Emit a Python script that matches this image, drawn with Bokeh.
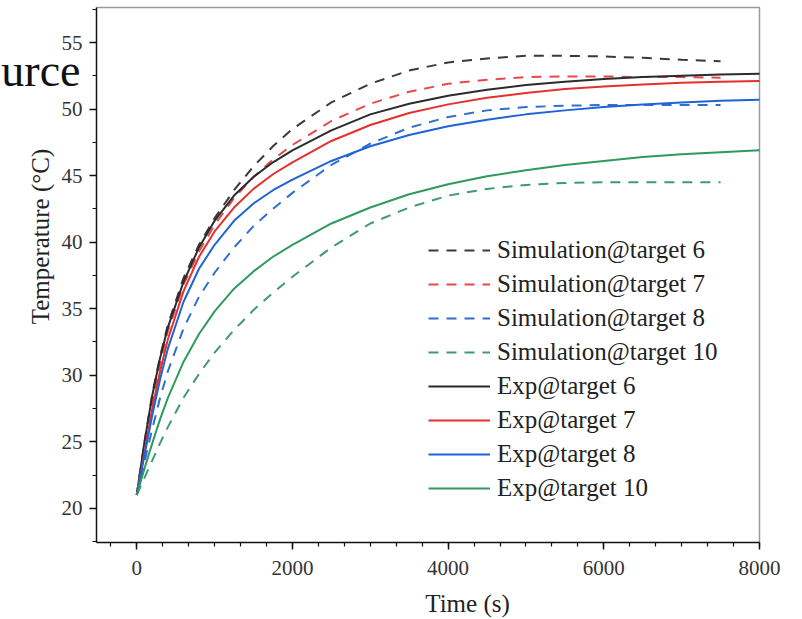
import math
from bokeh.plotting import figure
from bokeh.models import (Range1d, SingleIntervalTicker, Legend, LegendItem, Label)
from bokeh.embed import file_html
from bokeh.resources import INLINE

# ---- data ----
t_sim = [0, 100, 200, 300, 400, 600, 800, 1000, 1250, 1500, 1750, 2000, 2500,
         3000, 3500, 4000, 4500, 5000, 5500, 6000, 6500, 7000, 7500]
t_exp = t_sim + [8000]

sim6 = [21.0, 25.0, 28.6, 31.4, 33.8, 37.3, 39.8, 41.8, 43.9, 45.7, 47.2, 48.5, 50.5,
        51.9, 52.9, 53.5, 53.8, 54.0, 54.0, 53.95, 53.85, 53.7, 53.6]
sim7 = [21.0, 24.6, 28.0, 30.9, 33.3, 36.8, 39.3, 41.3, 43.3, 44.9, 46.2, 47.3, 49.1,
        50.4, 51.3, 51.9, 52.2, 52.4, 52.45, 52.45, 52.4, 52.4, 52.35]
sim8 = [21.0, 23.5, 26.0, 28.3, 30.3, 33.5, 35.9, 37.7, 39.6, 41.2, 42.5, 43.7, 45.8,
        47.4, 48.6, 49.4, 49.9, 50.15, 50.25, 50.3, 50.3, 50.3, 50.3]
sim10 = [21.0, 22.3, 23.6, 24.9, 26.1, 28.3, 30.1, 31.7, 33.4, 34.9, 36.2, 37.4, 39.6,
         41.4, 42.6, 43.5, 44.0, 44.3, 44.45, 44.5, 44.5, 44.5, 44.5]

exp6 = [21.0, 25.0, 28.5, 31.3, 33.6, 37.0, 39.6, 41.6, 43.5, 44.9, 46.0, 46.9, 48.4,
        49.6, 50.4, 51.0, 51.45, 51.8, 52.05, 52.25, 52.4, 52.5, 52.6, 52.65]
exp7 = [21.0, 24.2, 27.5, 30.3, 32.7, 36.3, 38.9, 40.8, 42.6, 44.0, 45.1, 46.0, 47.6,
        48.8, 49.7, 50.35, 50.85, 51.2, 51.5, 51.7, 51.85, 51.97, 52.05, 52.1]
exp8 = [21.0, 24.0, 27.0, 29.7, 32.0, 35.5, 38.0, 39.8, 41.6, 42.9, 43.9, 44.7, 46.1,
        47.2, 48.05, 48.7, 49.2, 49.6, 49.9, 50.15, 50.35, 50.5, 50.62, 50.7]
exp10 = [21.0, 23.0, 24.9, 26.7, 28.3, 31.0, 33.1, 34.8, 36.5, 37.8, 38.9, 39.8, 41.4,
         42.6, 43.6, 44.35, 44.95, 45.4, 45.8, 46.1, 46.4, 46.6, 46.75, 46.9]

sim_names = ["Simulation@target 6", "Simulation@target 7",
             "Simulation@target 8", "Simulation@target 10"]
exp_names = ["Exp@target 6", "Exp@target 7", "Exp@target 8", "Exp@target 10"]
sim_colors = ["#3a3a3a", "#e8474c", "#2f6fce", "#3f9a72"]
exp_colors = ["#2b2b2b", "#e53030", "#1f63d6", "#2e9a5c"]

x_title = "Time (s)"
y_title = "Temperature (\u00b0C)"
corner_text = "urce"

X0, X1 = -517, 8000      # visible axis extents
Y0, Y1 = 17.43, 57.63

SERIF = "Liberation Serif"

# ---- geometry: the frame fills the canvas; axes sit at fixed locations ----
W, H = 802, 619
FL, FR, FT, FB = 96, 759, 7, 542   # plot box edges in canvas pixels
kx = (X1 - X0) / (FR - FL)
ky = (Y1 - Y0) / (FB - FT)
xr = Range1d(X0 - FL * kx, X1 + (W - FR) * kx)
yr = Range1d(Y0 - (H - FB) * ky, Y1 + FT * ky)

def px_x(px):
    return xr.start + px * kx

def px_y(py):
    return yr.end - py * ky

p = figure(width=W, height=H, output_backend="svg", toolbar_location=None,
           x_range=xr, y_range=yr,
           min_border_left=0, min_border_right=0, min_border_top=0,
           min_border_bottom=0)
p.background_fill_color = "white"
p.border_fill_color = "white"
p.outline_line_color = None
p.xgrid.visible = False
p.ygrid.visible = False

# gray top / right box edges
p.line([X0, X1, X1], [Y1, Y1, Y0], line_color="#9a9a9a", line_width=1.5)

p.xaxis.ticker = SingleIntervalTicker(interval=2000, num_minor_ticks=6)
p.yaxis.ticker = SingleIntervalTicker(interval=5, num_minor_ticks=2)
p.xaxis.fixed_location = Y0
p.yaxis.fixed_location = X0
p.xaxis.bounds = (X0, X1)
p.yaxis.bounds = (Y0, Y1)
for ax in (p.xaxis[0], p.yaxis[0]):
    ax.axis_line_color = "#111111"
    ax.axis_line_width = 1.5
    ax.major_tick_line_color = "#111111"
    ax.minor_tick_line_color = "#111111"
    ax.major_tick_line_width = 1.5
    ax.minor_tick_line_width = 1.2
    ax.major_tick_in = 0
    ax.major_tick_out = 7
    ax.minor_tick_in = 0
    ax.minor_tick_out = 4
    ax.major_label_text_font = SERIF
    ax.major_label_text_font_size = "21px"
    ax.major_label_text_color = "#333333"
p.xaxis.major_label_standoff = 11
p.yaxis.major_label_standoff = 7

renderers = []
sims = [sim6, sim7, sim8, sim10]
exps = [exp6, exp7, exp8, exp10]
for ys, c in zip(sims, sim_colors):
    renderers.append(p.line(t_sim, ys, line_color=c, line_width=2, line_dash="10 8"))
for ys, c in zip(exps, exp_colors):
    renderers.append(p.line(t_exp, ys, line_color=c, line_width=2))

items = [LegendItem(label=n, renderers=[r]) for n, r in zip(sim_names + exp_names, renderers)]
legend = Legend(items=items, location=(428, H - FB + 40), padding=0, margin=0,
                border_line_alpha=0, background_fill_alpha=0,
                glyph_width=62, glyph_height=20, label_height=20,
                label_standoff=7, spacing=6,
                label_text_font=SERIF, label_text_font_size="25px",
                label_text_color="#222222")
p.add_layout(legend, "center")

# texts around the box
p.add_layout(Label(x=px_x(40), y=px_y(236), text=y_title, angle=math.pi / 2,
                   text_align="center", text_baseline="middle",
                   text_font=SERIF, text_font_size="25px", text_color="#222222"))
p.add_layout(Label(x=px_x(467), y=px_y(603), text=x_title,
                   text_align="center", text_baseline="middle",
                   text_font=SERIF, text_font_size="25px", text_color="#222222"))
p.add_layout(Label(x=px_x(80), y=px_y(70), text=corner_text,
                   text_align="right", text_baseline="alphabetic",
                   text_font=SERIF, text_font_size="46px", text_color="#111111"))

open("out.html", "w").write(file_html(p, INLINE))
